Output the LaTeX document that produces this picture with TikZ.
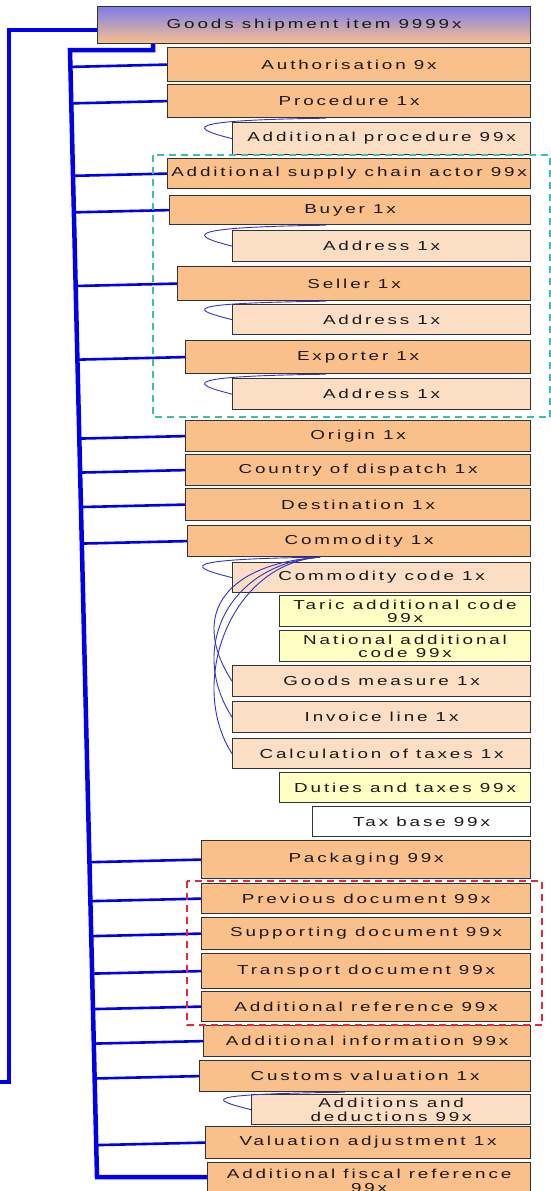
\documentclass[tikz,border=0pt]{standalone}
\usepackage{fontspec}
\usepackage{tikz}
\usetikzlibrary{calc, shadings}

\newfontfamily\boxfont[FakeStretch=1.45,LetterSpace=22]{Liberation Sans}

\definecolor{itemorange}{RGB}{250,192,140}
\definecolor{sublight}{RGB}{252,222,196}
\definecolor{codeyellow}{RGB}{255,255,196}
\definecolor{linkblue}{RGB}{0,0,235}
\definecolor{hookblue}{RGB}{50,50,200}
\definecolor{zonecyan}{RGB}{60,190,170}
\definecolor{zonered}{RGB}{225,40,60}

\begin{document}
\begin{tikzpicture}[x=1pt,y=-1pt,
  item/.style={draw=black!80, line width=1.2pt, fill=itemorange, anchor=north west,
    inner sep=0pt, align=center, text=black!90,
    font=\boxfont\fontsize{13}{13.5}\selectfont},
  sub/.style={item, fill=sublight},
  code/.style={item, fill=codeyellow},
  plain/.style={item, fill=white},
  wh/.style 2 args={minimum width=#1pt, minimum height=#2pt},
  trunk/.style={draw=linkblue, line width=4.5pt},
  branch/.style={draw=linkblue, line width=2.6pt},
  hook/.style={draw=hookblue, line width=0.9pt},
  zone/.style={line width=2.2pt, dash pattern=on 7pt off 5pt}]
\useasboundingbox (0,0) rectangle (551,1191);
\clip (0,0) rectangle (551,1191);

% root
\node[item, wh={433}{37}, top color={rgb,255:red,125;green,125;blue,235}, bottom color=itemorange] (gsi) at (97,6) {Goods shipment item 9999x};

\node[item, wh={363}{34}] (auth) at (167,47) {Authorisation 9x};
\node[item, wh={363}{33}] (proc) at (167,84) {Procedure 1x};
\node[sub, wh={298}{32}] (addproc) at (232,122) {Additional procedure 99x};

\node[item, wh={363}{30}] (asca) at (167,158) {Additional supply chain actor 99x};
\node[item, wh={361}{29}] (buyer) at (169,195) {Buyer 1x};
\node[sub, wh={298}{31}] (buyeraddr) at (232,230) {Address 1x};
\node[item, wh={353}{34}] (seller) at (177,266) {Seller 1x};
\node[sub, wh={298}{30}] (selleraddr) at (232,304) {Address 1x};
\node[item, wh={345}{33}] (exporter) at (185,340) {Exporter 1x};
\node[sub, wh={298}{31}] (exporteraddr) at (232,378) {Address 1x};

\node[item, wh={345}{31}] (origin) at (185,420) {Origin 1x};
\node[item, wh={345}{31}] (dispatch) at (185,454) {Country of dispatch 1x};
\node[item, wh={345}{32}] (destination) at (185,488) {Destination 1x};
\node[item, wh={343}{31}] (commodity) at (187,525) {Commodity 1x};
\node[sub, wh={298}{30}] (commcode) at (232,562) {Commodity code 1x};
\node[code, wh={251}{31}] (taric) at (279,595) {Taric additional code\\99x};
\node[code, wh={251}{31}] (national) at (279,630) {National additional\\code 99x};
\node[sub, wh={298}{31}] (measure) at (232,665) {Goods measure 1x};
\node[sub, wh={298}{31}] (invoice) at (232,701) {Invoice line 1x};
\node[sub, wh={298}{30}] (calctax) at (232,738) {Calculation of taxes 1x};
\node[code, wh={251}{30}] (duties) at (279,772) {Duties and taxes 99x};
\node[plain, wh={218}{30}] (taxbase) at (312,806) {Tax base 99x};

\node[item, wh={329}{38}] (packaging) at (201,840) {Packaging 99x};
\node[item, wh={329}{30}] (prevdoc) at (201,883) {Previous document 99x};
\node[item, wh={329}{32}] (suppdoc) at (201,917) {Supporting document 99x};
\node[item, wh={329}{35}] (transdoc) at (201,953) {Transport document 99x};
\node[item, wh={329}{30}] (addref) at (201,991) {Additional reference 99x};
\node[item, wh={327}{31}] (addinfo) at (203,1025) {Additional information 99x};
\node[item, wh={331}{31}] (valuation) at (199,1060) {Customs valuation 1x};
\node[sub, wh={279}{30}] (adddeduct) at (251,1094) {Additions and\\deductions 99x};
\node[item, wh={325}{32}] (adjustment) at (205,1126) {Valuation adjustment 1x};
\node[item, wh={323}{36}] (fiscal) at (207,1162) {Additional fiscal reference\\99x};

% outer trunk
\coordinate (outerfoot) at (9,1082);
\draw[trunk] ([yshift=-5pt]gsi.west) -| (outerfoot) -- ++(-9,0);

% inner spine
\coordinate (spinetop) at (70,50);
\coordinate (spinebot) at (97,1177);
\draw[trunk] ([xshift=56pt]gsi.south west) |- (spinetop) -- (spinebot) -- (spinebot -| fiscal.west);
\foreach \n in {auth,proc,asca,buyer,seller,exporter,origin,dispatch,destination,commodity,
    packaging,prevdoc,suppdoc,transdoc,addref,addinfo,valuation,adjustment}
  \draw[branch] ($(spinetop)!(\n.west)!(spinebot)$) -- (\n.west);

% sub links
\foreach \p/\c in {proc/addproc,buyer/buyeraddr,seller/selleraddr,exporter/exporteraddr,valuation/adddeduct}{
  \path (\c.north west) ++(94,0) coordinate (hs);
  \draw[hook] (hs |- \p.south) .. controls +(-150,2) and +(-40,-10) .. (\c.west);
}
\path (commcode.north west) ++(88,0) coordinate (cs);
\draw[hook] (cs |- commodity.south) .. controls +(-150,2) and +(-40,-10) .. (commcode.west);
\foreach \c in {measure,invoice,calctax}
  \draw[hook] (cs |- commodity.south) .. controls +(-90,6) and +(-45,-70) .. (\c.west);

% groups
\draw[zone, zonecyan] ($(asca.north west)+(-14,-3)$) rectangle ($(exporteraddr.south east)+(19,7)$);
\draw[zone, zonered] ($(prevdoc.north west)+(-14,-2)$) rectangle ($(addref.south east)+(11,3)$);
\end{tikzpicture}
\end{document}
